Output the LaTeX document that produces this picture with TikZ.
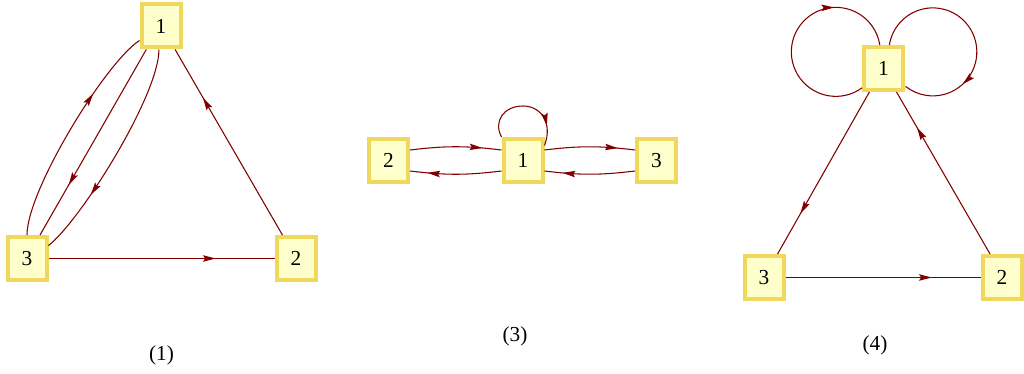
\documentclass[tikz,border=0pt]{standalone}
\usepackage{fontspec}
\setmainfont{Liberation Serif}
\usetikzlibrary{arrows.meta,decorations.markings}
\definecolor{edgered}{RGB}{128,0,0}
\definecolor{boxfill}{RGB}{255,255,204}
\definecolor{boxline}{RGB}{240,216,92}
\tikzset{
  vbox/.style={draw=boxline, fill=boxfill, line width=3pt, minimum width=29.25pt,
    minimum height=32.25pt, inner sep=0pt, font=\fontsize{16}{18}\selectfont},
  lbl/.style={font=\fontsize{16}{18}\selectfont, inner sep=0pt},
  edge/.style={draw=edgered, line width=0.8pt},
  midarrow/.style={postaction={decorate, decoration={markings,
    mark=at position #1 with {\arrow{Stealth[length=9.5pt,width=4.8pt,inset=1.5pt]}}}}}
}
\begin{document}
\begin{tikzpicture}[x=0.75pt,y=-0.75pt]
\useasboundingbox (0,0) rectangle (1024,374);
% ---------- (1) ----------
\node[vbox] (a1) at (161,26) {1};
\node[vbox] (a3) at (27,258.5) {3};
\node[vbox] (a2) at (296,258.5) {2};
\draw[edge, midarrow=0.74] (a3.east) -- (a2.west);
\draw[edge, midarrow=0.74] (a2.120) -- (a1.-59);
\draw[edge, midarrow=0.73] (a1.238) -- (a3.61);
\draw[edge, midarrow=0.69] (a3.north) .. controls (27,190) and (106,62) .. (a1.214);
\draw[edge, midarrow=0.71] (a1.265) .. controls (159,95) and (81,220) .. (a3.31);
\node[lbl] (l1) at (161.5,355.5) {(1)};
% ---------- (3) ----------
\node[vbox] (b2) at (388.5,160.5) {2};
\node[vbox] (b1) at (523,160.5) {1};
\node[vbox] (b3) at (656.5,160.5) {3};
\draw[edge, midarrow=0.79] (b2.26) to[out=7,in=173] (b1.154);
\draw[edge, midarrow=0.81] (b1.206) to[out=187,in=-7] (b2.-26);
\draw[edge, midarrow=0.81] (b1.26) to[out=7,in=173] (b3.154);
\draw[edge, midarrow=0.80] (b3.206) to[out=187,in=-7] (b1.-26);
\draw[edge, midarrow=0.80] (b1.north west) .. controls (493,121) and (504,106) .. (523,106)
   .. controls (541,106) and (553,123) .. (b1.35);
\node[lbl] (l3) at (515,336) {(3)};
% ---------- (4) ----------
\node[vbox] (c1) at (883.5,68.5) {1};
\node[vbox] (c3) at (764,277.5) {3};
\node[vbox] (c2) at (1002,277.5) {2};
\draw[edge, midarrow=0.75] (c1.239) -- (c3.60);
\draw[edge, midarrow=0.78] (c2.117) -- (c1.-61);
\draw[edge, midarrow=0.75] (c3.east) -- (c2.west);
\draw[edge, midarrow=0.72] (c1.222) arc[start angle=-54, end angle=-351, radius=33.375pt];
\draw[edge, midarrow=0.73] (c1.76) arc[start angle=171, end angle=-128.3, radius=33pt];
\node[lbl] (l4) at (875,345.5) {(4)};
\end{tikzpicture}
\end{document}
